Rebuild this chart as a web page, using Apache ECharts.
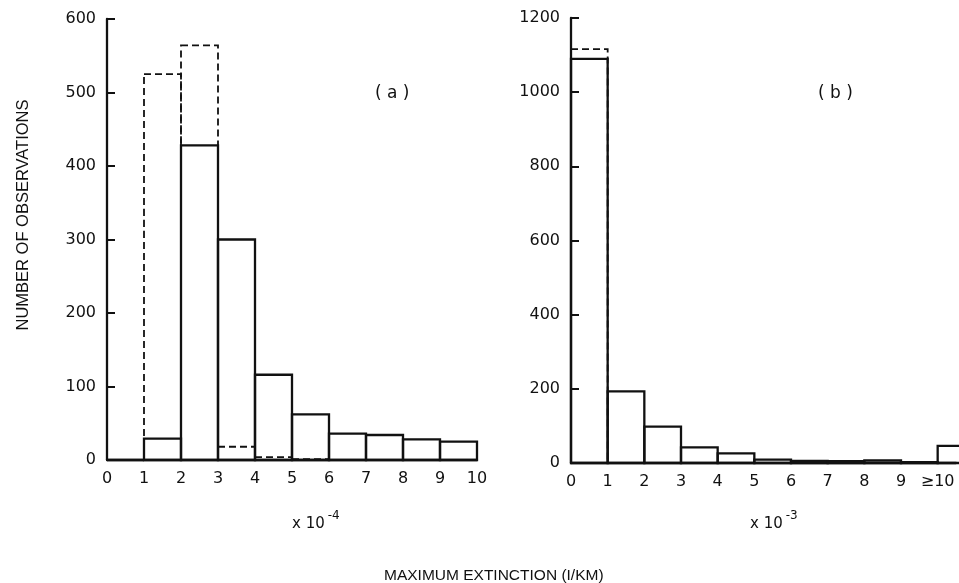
<!DOCTYPE html>
<html>
<head>
<meta charset="utf-8">
<script src="https://cdn.jsdelivr.net/npm/echarts@6/dist/echarts.min.js"></script>
<style>html,body{margin:0;padding:0;background:#fff}#c{width:959px;height:583px}</style>
</head>
<body>
<div id="c"></div>
<script>
// Panel (a): bins of 1e-4 /km
var binsA = [0,1,2,3,4,5,6,7,8,9];
var solidA = [0, 29, 428, 300, 116, 62, 36, 34, 28, 25];
var dashedA = [0, 525, 564, 18, 4, 1, 0, 0, 0, 0];
var xLabelsA = ['0','1','2','3','4','5','6','7','8','9','10'];
var yTicksA = [0,100,200,300,400,500,600];

// Panel (b): bins of 1e-3 /km, last bin is >=10
var binsB = [0,1,2,3,4,5,6,7,8,9,10];
var solidB = [1090, 193, 98, 42, 26, 9, 6, 5, 7, 2, 46];
var dashedB = [1116, 0, 0, 0, 0, 0, 0, 0, 0, 3, 0];
var xLabelsB = ['0','1','2','3','4','5','6','7','8','9','\u226510'];
var yTicksB = [0,200,400,600,800,1000,1200];

function toData(bins, vals, skipZero) {
  var out = [];
  for (var i = 0; i < bins.length; i++) {
    if (skipZero && vals[i] === 0) continue;
    out.push([bins[i], bins[i] + 1, vals[i]]);
  }
  return out;
}

function renderer(dashed) {
  return function (params, api) {
    var p0 = api.coord([api.value(0), 0]);
    var p1 = api.coord([api.value(1), api.value(2)]);
    var rect = { x: p0[0], y: p1[1], width: p1[0] - p0[0], height: p0[1] - p1[1] };
    var shape = echarts.graphic.clipRectByRect(rect, {
      x: params.coordSys.x, y: params.coordSys.y - 5,
      width: params.coordSys.width, height: params.coordSys.height + 10
    });
    if (!shape) return;
    // keep top/left/bottom edges; a clipped bar loses nothing visible at right edge of canvas
    return {
      type: 'rect',
      shape: rect,
      style: { fill: 'none', stroke: '#111', lineWidth: dashed ? 1.8 : 2.3, lineDash: dashed ? [7, 4] : null }
    };
  };
}

var font = 'DejaVu Sans';
var axisLineStyle = { color: '#111', width: 2.3 };

function xAxisCfg(idx, max, labels) {
  return {
    type: 'value', gridIndex: idx, min: 0, max: max, interval: 1,
    axisLine: { show: true, lineStyle: axisLineStyle },
    axisTick: { show: false },
    splitLine: { show: false },
    axisLabel: { color: '#111', fontFamily: font, fontSize: 16, margin: 11,
      showMaxLabel: true,
      formatter: function (v) { return (Math.abs(v - Math.round(v)) < 1e-6 && labels[Math.round(v)] !== undefined) ? labels[Math.round(v)] : ''; } }
  };
}
function yAxisCfg(idx, ticks) {
  return {
    type: 'value', gridIndex: idx, min: ticks[0], max: ticks[ticks.length - 1],
    interval: ticks[1] - ticks[0],
    axisLine: { show: true, lineStyle: axisLineStyle },
    axisTick: { show: true, inside: true, length: 8, lineStyle: { color: '#111', width: 2 } },
    splitLine: { show: false },
    axisLabel: { color: '#111', fontFamily: font, fontSize: 16, margin: 11,
      formatter: function (v) { return String(v); } }
  };
}

var supStyle = {
  a: { fontFamily: font, fontSize: 15, color: '#111', fontWeight: 'normal', verticalAlign: 'bottom', lineHeight: 22 },
  s: { fontFamily: font, fontSize: 12, color: '#111', fontWeight: 'normal', verticalAlign: 'top', lineHeight: 22, padding: [0, 0, 10, 3] }
};

var chart = echarts.init(document.getElementById('c'), null, { renderer: 'canvas' });
chart.setOption({
  backgroundColor: '#fff',
  animation: false,
  grid: [
    { left: 107, top: 19, width: 370, height: 441 },
    { left: 571, top: 18, width: 388, height: 445 }
  ],
  xAxis: [xAxisCfg(0, 10, xLabelsA), xAxisCfg(1, 10.5, xLabelsB)],
  yAxis: [yAxisCfg(0, yTicksA), yAxisCfg(1, yTicksB)],
  title: [
    { text: '( a )', left: 370, top: 80, textStyle: { fontFamily: font, fontSize: 17, fontWeight: 'normal', color: '#111' } },
    { text: '( b )', left: 813, top: 80, textStyle: { fontFamily: font, fontSize: 17, fontWeight: 'normal', color: '#111' } },
    { text: '{a|x 10}{s|-4}', left: 287, top: 505, textStyle: { rich: supStyle } },
    { text: '{a|x 10}{s|-3}', left: 745, top: 505, textStyle: { rich: supStyle } },
    { text: 'MAXIMUM EXTINCTION (I/KM)', left: 379, top: 563, textStyle: { fontFamily: 'Liberation Sans', fontSize: 15.5, fontWeight: 'normal', color: '#111' } }
  ],
  graphic: [
    { type: 'text', x: 23, y: 215, rotation: Math.PI / 2, style: { text: 'NUMBER OF OBSERVATIONS', font: '16.5px "Liberation Sans"', fill: '#111', textAlign: 'center', textVerticalAlign: 'middle' } }
  ],
  series: [
    { type: 'custom', xAxisIndex: 0, yAxisIndex: 0, renderItem: renderer(true), data: toData(binsA, dashedA, true), encode: { x: [0, 1], y: 2 } },
    { type: 'custom', xAxisIndex: 0, yAxisIndex: 0, renderItem: renderer(false), data: toData(binsA, solidA, false), encode: { x: [0, 1], y: 2 } },
    { type: 'custom', xAxisIndex: 1, yAxisIndex: 1, renderItem: renderer(true), data: toData(binsB, dashedB, true), encode: { x: [0, 1], y: 2 } },
    { type: 'custom', xAxisIndex: 1, yAxisIndex: 1, renderItem: renderer(false), data: toData(binsB, solidB, false), encode: { x: [0, 1], y: 2 } }
  ]
});
</script>
</body>
</html>
